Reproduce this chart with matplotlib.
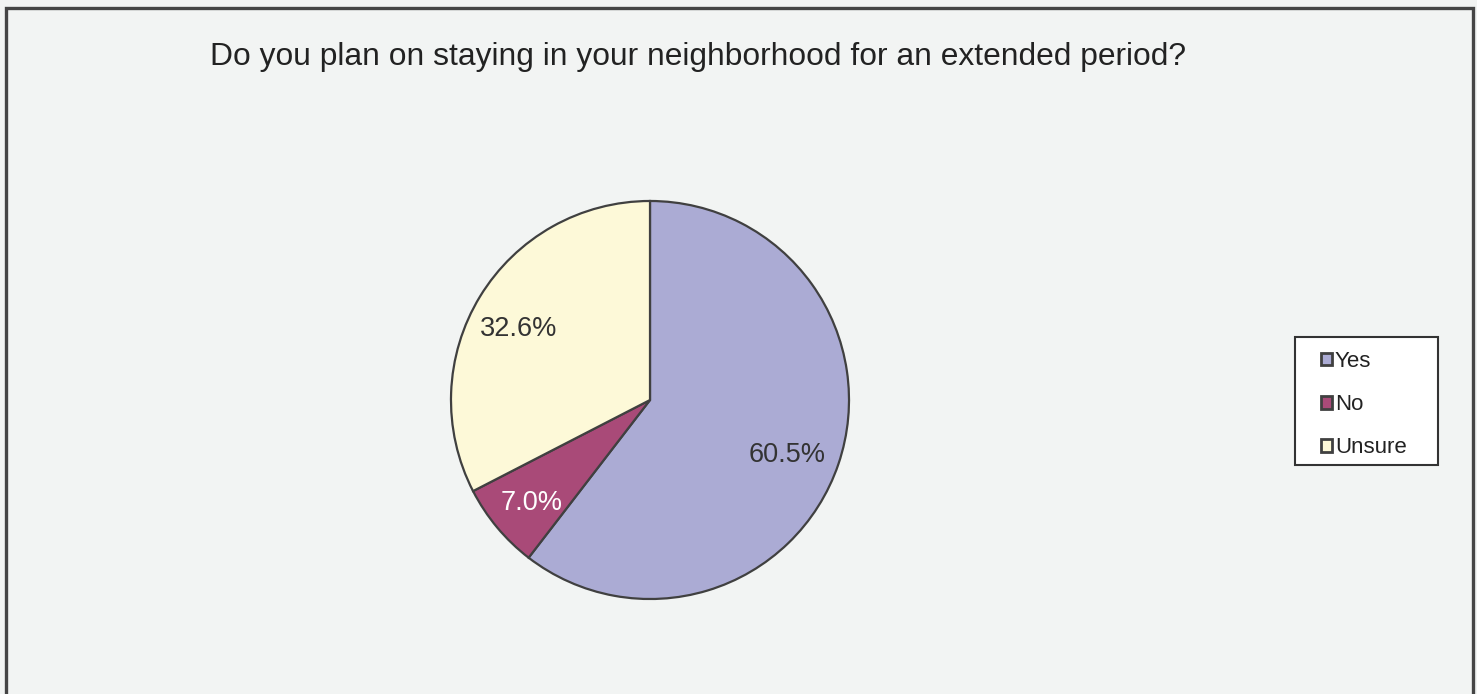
import matplotlib
matplotlib.use("Agg")
import matplotlib.pyplot as plt
from matplotlib.patches import Rectangle

# Survey responses
categories = ["Yes", "No", "Unsure"]
shares = [60.5, 7.0, 32.6]
colors = ["#ABABD4", "#A94A78", "#FDF9D8"]
label_colors = ["#333333", "#FFFFFF", "#333333"]
title = "Do you plan on staying in your neighborhood for an extended period?"

plt.rcParams["font.family"] = ["Liberation Sans", "DejaVu Sans"]

W, H = 1477, 694
fig = plt.figure(figsize=(W / 100, H / 100), dpi=100)
fig.patch.set_facecolor("#F2F4F3")

# Outer frame (open at the bottom edge)
frame = Rectangle((5.5 / W, -0.05), (1472.5 - 5.5) / W, (H - 8) / H + 0.05,
                  transform=fig.transFigure, fill=False,
                  edgecolor="#454545", linewidth=2.4, zorder=0)
fig.patches.append(frame)

cx, cy, r = 650, 400, 201
ax = fig.add_axes([(cx - r) / W, (H - cy - r) / H, 2 * r / W, 2 * r / H])
ax.set_facecolor("none")

wedges, texts, autotexts = ax.pie(
    shares, colors=colors, startangle=90, counterclock=False,
    autopct="%.1f%%", pctdistance=0.75, radius=1.0,
    wedgeprops=dict(edgecolor="#404040", linewidth=1.6),
)
# Show the recorded shares as printed values
for t, v, c in zip(autotexts, shares, label_colors):
    t.set_text(f"{v:.1f}%")
    t.set_color(c)
    t.set_fontfamily(["Liberation Sans Narrow", "Liberation Sans", "DejaVu Sans"])
    t.set_fontsize(19.5)
    x, y = t.get_position()
    t.set_position((x - 0.02, y - 0.035))
ax.set_xlim(-1.01, 1.01)
ax.set_ylim(-1.01, 1.01)
ax.set_aspect("equal")
ax.axis("off")

fig.text(698 / W, 1 - 57 / H, title, ha="center", va="center",
         fontsize=22.9, color="#222222")

# Legend box
box = Rectangle((1294.5 / W, 1 - 465 / H), (1438 - 1294.5) / W, (465 - 336.5) / H,
                transform=fig.transFigure, facecolor="#FFFFFF",
                edgecolor="#333333", linewidth=1.5, zorder=1)
fig.patches.append(box)

leg = fig.legend(wedges, categories, loc="upper left",
                 bbox_to_anchor=(1321 / W, 1 - 351 / H),
                 frameon=False, fontsize=16,
                 handlelength=0.5, handleheight=0.5, handletextpad=0.12,
                 labelspacing=1.0, borderpad=0.0, borderaxespad=0.0)
leg.set_zorder(2)
for t in leg.get_texts():
    t.set_color("#222222")
for h in leg.legend_handles:
    h.set_linewidth(2.0)

fig.savefig("out.png", dpi=100, facecolor=fig.get_facecolor())
